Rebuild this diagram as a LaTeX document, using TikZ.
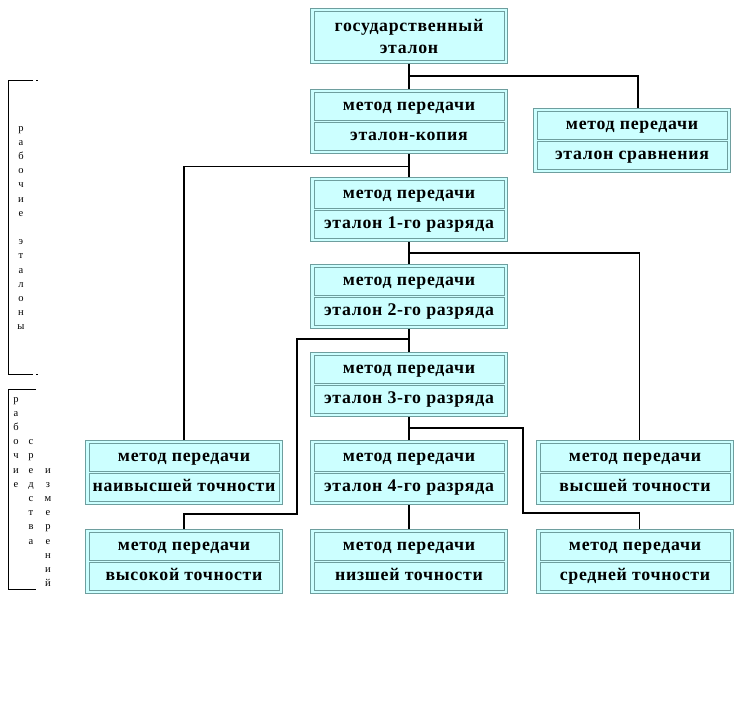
\documentclass[tikz,border=0pt]{standalone}
\usepackage{fontspec}
\setmainfont{Liberation Serif}
\newfontfamily\boxfont[LetterSpace=4]{Liberation Serif}
\definecolor{cyanf}{HTML}{CCFFFF}
\definecolor{bord}{HTML}{6E9E9E}
\tikzset{
  outerbox/.style={draw=bord, fill=cyanf, line width=1pt, minimum width=197pt, minimum height=64pt, inner sep=0pt, anchor=north west},
  rowbox/.style={draw=bord, fill=cyanf, line width=1pt, minimum width=190pt, minimum height=28pt, inner sep=0pt, text height=8pt, text depth=0pt, font=\boxfont\bfseries\fontsize{17.8}{20}\selectfont},
  conn/.style={draw=black, line width=1.1pt},
  side/.style={font=\fontsize{10.5}{14.2}\selectfont, align=center, inner sep=0pt, anchor=north},
  brk/.style={draw=black, line width=1pt}
}
\newcommand{\dbox}[5]{%
  \node[outerbox] (#1) at (#2,#3) {};
  \node[rowbox, anchor=north] (#1t) at ([yshift=-3pt]#1.north) {#4};
  \node[rowbox, anchor=south] (#1b) at ([yshift=3pt]#1.south) {#5};
}
\begin{document}
\begin{tikzpicture}[x=1pt,y=-1pt]
\useasboundingbox (0,0) rectangle (737,709);
% top box
\node[outerbox, minimum height=55pt] (T) at (310,8) {};
\node[rowbox, minimum height=49pt, text height=, text depth=, align=center, font=\boxfont\bfseries\fontsize{17.8}{22}\selectfont] (Tt) at (T.center) {государственный\\эталон};
\dbox{A}{310}{89}{метод передачи}{эталон-копия}
\dbox{B}{533}{108}{метод передачи}{эталон сравнения}
\dbox{C}{310}{177}{метод передачи}{эталон 1-го разряда}
\dbox{D}{310}{264}{метод передачи}{эталон 2-го разряда}
\dbox{E}{310}{352}{метод передачи}{эталон 3-го разряда}
\dbox{F}{310}{440}{метод передачи}{эталон 4-го разряда}
\dbox{G}{85}{440}{метод передачи}{наивысшей точности}
\dbox{H}{536}{440}{метод передачи}{высшей точности}
\dbox{I}{85}{529}{метод передачи}{высокой точности}
\dbox{J}{310}{529}{метод передачи}{низшей точности}
\dbox{K}{536}{529}{метод передачи}{средней точности}
% connectors
\draw[conn] (T.south) -- (A.north);
\draw[conn] (T.south) -- ++(0,12) -| ([xshift=6pt]B.north);
\draw[conn] (A.south) -- (C.north);
\draw[conn] (A.south) -- ++(0,12.5) -| (G.north);
\draw[conn] (C.south) -- (D.north);
\draw[conn] (C.south) -- ++(0,11) -| ([xshift=4.5pt]H.north);
\draw[conn] (D.south) -- (E.north);
\coordinate (k1) at (297,339);
\coordinate (k2) at (297,514);
\draw[conn] (D.south) |- (k1) -- (k2) -| (I.north);
\draw[conn] (E.south) -- (F.north);
\coordinate (k3) at (523,428);
\coordinate (k4) at (523,513);
\draw[conn] (F.north) |- (k3) -- (k4) -| ([xshift=4.5pt]K.north);
\draw[conn] (F.south) -- (J.north);
% brackets
\draw[brk] (33,81) -- (8,81) -- (8,374) -- (33,374);
\fill (36,80.5) rectangle (37.5,81.5);
\fill (36,373.5) rectangle (37.5,374.5);
\draw[brk] (36,389) -- (8,389) -- (8,589) -- (36,589);
\node[side] (s1) at (21,126) {р\\а\\б\\о\\ч\\и\\е\\[14.2pt]э\\т\\а\\л\\о\\н\\ы};
\node[side] (s2) at (16,397) {р\\а\\б\\о\\ч\\и\\е};
\node[side] (s3) at (31,439.6) {с\\р\\е\\д\\с\\т\\в\\а};
\node[side] (s4) at (48,468) {и\\з\\м\\е\\р\\е\\н\\и\\й};
\end{tikzpicture}
\end{document}
